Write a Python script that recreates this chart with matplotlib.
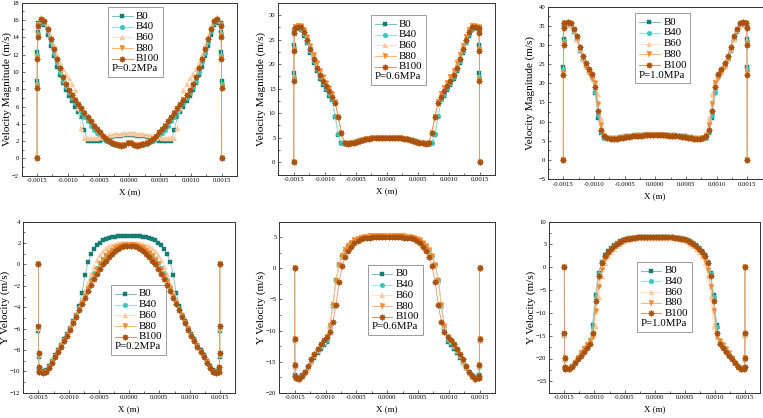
import numpy as np
import matplotlib
matplotlib.use("Agg")
import matplotlib.pyplot as plt
from matplotlib.path import Path
from matplotlib.lines import Line2D
from matplotlib.offsetbox import AnchoredOffsetbox, VPacker, HPacker, TextArea, DrawingArea
from matplotlib.ticker import MultipleLocator, FormatStrFormatter

plt.rcParams['font.family'] = ['Liberation Serif', 'DejaVu Serif']

# ---------------- data (half profiles, x from wall to centre) ----------------
x_half = [-0.0015, -0.001499, -0.001497, -0.001493, -0.001485,
          -0.00143, -0.00138, -0.00133, -0.00128, -0.00123, -0.00118, -0.00113,
          -0.00108, -0.00103, -0.00098, -0.00093, -0.00088, -0.00083, -0.00078,
          -0.00073, -0.00068, -0.00063, -0.00058, -0.00053, -0.00048, -0.00043,
          -0.00038, -0.00033, -0.00028, -0.00023, -0.00018, -0.00013, -0.00008, -0.00003]

series_names = ['B0', 'B40', 'B60', 'B80', 'B100']

# Velocity magnitude, P=0.2MPa
vm02_B0 = [0, 8.9, 12.3, 14.6, 15.6, 15.7, 15.4, 14.3, 13.0, 11.8, 10.6, 9.6, 8.7, 7.9, 7.2, 6.6, 6.0, 5.4, 4.8, 3.3, 2.05, 2.0, 2.0, 2.0, 2.05, 2.2, 2.3, 2.4, 2.5, 2.55, 2.6, 2.6, 2.65, 2.65]
vm02_B40 = [0, 8.6, 12.0, 14.4, 15.5, 15.9, 15.6, 14.7, 13.4, 12.2, 11.1, 10.0, 9.0, 8.3, 7.6, 7.0, 6.4, 5.9, 5.3, 4.8, 4.3, 3.8, 3.3, 2.9, 2.6, 2.3, 2.0, 1.85, 1.7, 1.6, 1.55, 1.5, 1.6, 1.75]
vm02_B60 = [0, 8.3, 11.7, 14.2, 15.5, 16.3, 16.1, 15.3, 14.2, 13.1, 12.0, 11.0, 10.3, 9.8, 9.3, 8.6, 7.9, 5.8, 3.5, 2.4, 2.35, 2.35, 2.4, 2.4, 2.45, 2.5, 2.6, 2.7, 2.75, 2.8, 2.85, 2.85, 2.9, 2.9]
vm02_B80 = [0, 8.2, 11.6, 14.1, 15.4, 16.0, 15.8, 14.9, 13.7, 12.5, 11.4, 10.3, 9.3, 8.5, 7.8, 7.2, 6.7, 6.2, 5.7, 5.2, 4.7, 4.2, 3.7, 3.3, 2.9, 2.5, 2.2, 1.95, 1.8, 1.7, 1.6, 1.5, 1.6, 1.8]
vm02_B100 = [0, 8.1, 11.5, 14.0, 15.3, 16.1, 15.9, 15.0, 13.8, 12.6, 11.5, 10.4, 9.4, 8.6, 7.9, 7.3, 6.8, 6.3, 5.8, 5.3, 4.8, 4.3, 3.8, 3.4, 3.0, 2.6, 2.3, 2.0, 1.8, 1.65, 1.5, 1.4, 1.55, 1.75]

# Velocity magnitude, P=0.6MPa
vm06_B0 = [0, 18.1, 23.8, 26.8, 27.2, 27.3, 27.0, 25.8, 24.2, 22.2, 20.2, 18.5, 17.0, 15.8, 14.7, 13.6, 12.6, 9.3, 5.6, 3.9, 3.8, 3.85, 3.95, 4.1, 4.3, 4.45, 4.6, 4.75, 4.85, 4.9, 4.95, 5.0, 5.05, 5.05]
vm06_B40 = [0, 17.3, 23.2, 26.6, 27.3, 27.4, 27.2, 26.1, 24.6, 22.6, 20.6, 18.9, 17.4, 16.2, 15.1, 14.0, 12.9, 9.4, 5.7, 4.0, 3.8, 3.85, 3.95, 4.1, 4.3, 4.45, 4.6, 4.75, 4.85, 4.9, 4.95, 5.0, 5.05, 5.05]
vm06_B60 = [0, 17.0, 23.0, 26.6, 27.5, 27.7, 27.6, 26.9, 25.4, 23.5, 21.6, 20.0, 18.5, 17.2, 16.1, 15.0, 13.8, 12.3, 9.3, 5.9, 4.0, 3.8, 3.9, 4.0, 4.2, 4.4, 4.55, 4.7, 4.8, 4.9, 4.95, 5.0, 5.05, 5.05]
vm06_B80 = [0, 16.8, 22.8, 26.5, 27.5, 27.8, 27.7, 27.0, 25.5, 23.6, 21.8, 20.2, 18.6, 17.3, 16.2, 15.1, 13.9, 12.3, 9.3, 5.9, 4.0, 3.8, 3.9, 4.0, 4.2, 4.4, 4.55, 4.7, 4.8, 4.9, 4.95, 5.0, 5.05, 5.05]
vm06_B100 = [0, 16.5, 22.6, 26.4, 27.4, 27.6, 27.5, 26.6, 25.0, 23.0, 21.0, 19.3, 17.8, 16.5, 15.5, 14.5, 13.3, 12.1, 9.2, 5.9, 4.0, 3.8, 3.9, 4.0, 4.2, 4.4, 4.55, 4.7, 4.8, 4.9, 4.95, 5.0, 5.05, 5.05]

# Velocity magnitude, P=1.0MPa
vm10_B0 = [0, 24.3, 31.5, 34.8, 35.3, 35.3, 34.9, 33.3, 31.2, 28.5, 26.2, 24.5, 23.2, 21.6, 17.4, 11.0, 7.0, 5.7, 5.6, 5.6, 5.7, 5.8, 5.9, 6.0, 6.1, 6.2, 6.3, 6.4, 6.45, 6.5, 6.55, 6.6, 6.6, 6.6]
vm10_B40 = [0, 23.6, 31.0, 34.6, 35.4, 35.5, 35.1, 33.6, 31.5, 28.8, 26.4, 24.7, 23.4, 21.9, 17.8, 11.6, 7.2, 5.8, 5.6, 5.6, 5.65, 5.75, 5.85, 5.95, 6.05, 6.15, 6.25, 6.35, 6.4, 6.45, 6.5, 6.55, 6.6, 6.6]
vm10_B60 = [0, 23.0, 30.5, 34.6, 35.6, 35.7, 35.3, 33.8, 31.6, 28.9, 26.3, 24.4, 23.0, 21.8, 20.7, 17.2, 11.0, 7.0, 5.8, 5.5, 5.5, 5.6, 5.7, 5.8, 5.9, 6.0, 6.1, 6.2, 6.25, 6.3, 6.35, 6.4, 6.4, 6.4]
vm10_B80 = [0, 22.8, 30.2, 34.5, 35.7, 35.8, 35.4, 33.9, 31.8, 29.0, 26.4, 24.3, 22.8, 21.2, 20.0, 14.5, 9.1, 6.3, 5.6, 5.4, 5.4, 5.5, 5.6, 5.75, 5.85, 5.95, 6.05, 6.15, 6.25, 6.3, 6.35, 6.4, 6.45, 6.45]
vm10_B100 = [0, 22.2, 29.9, 34.5, 35.8, 35.9, 35.7, 34.3, 32.4, 29.6, 27.0, 25.2, 23.8, 22.4, 19.0, 12.7, 7.8, 6.1, 5.6, 5.4, 5.4, 5.5, 5.6, 5.8, 5.9, 6.0, 6.1, 6.2, 6.3, 6.35, 6.4, 6.45, 6.5, 6.5]

# Y velocity, P=0.2MPa
yv02_B0 = [0, -6.2, -8.7, -9.9, -10.0, -10.0, -9.9, -9.5, -9.0, -8.5, -8.0, -7.5, -7.0, -6.5, -5.9, -5.3, -4.7, -3.9, -2.7, -1.0, 0.2, 0.95, 1.45, 1.8, 2.05, 2.25, 2.4, 2.5, 2.55, 2.6, 2.62, 2.65, 2.65, 2.65]
yv02_B40 = [0, -6.0, -8.5, -9.8, -10.1, -10.1, -10.0, -9.6, -9.1, -8.6, -8.1, -7.6, -7.1, -6.6, -6.0, -5.4, -4.8, -4.2, -3.5, -2.8, -2.1, -1.4, -0.8, -0.3, 0.15, 0.5, 0.85, 1.1, 1.35, 1.55, 1.7, 1.8, 1.85, 1.85]
yv02_B60 = [0, -5.9, -8.4, -9.7, -10.1, -10.1, -10.0, -9.6, -9.1, -8.6, -8.1, -7.6, -7.1, -6.6, -6.0, -5.4, -4.8, -4.1, -3.3, -2.5, -1.7, -0.9, -0.2, 0.4, 0.9, 1.25, 1.5, 1.7, 1.85, 1.95, 2.0, 2.05, 2.05, 2.05]
yv02_B80 = [0, -5.85, -8.35, -9.65, -10.1, -10.15, -10.05, -9.65, -9.15, -8.65, -8.15, -7.65, -7.15, -6.65, -6.05, -5.45, -4.85, -4.25, -3.6, -2.95, -2.3, -1.65, -1.05, -0.5, 0.0, 0.4, 0.75, 1.05, 1.3, 1.5, 1.65, 1.75, 1.8, 1.85]
yv02_B100 = [0, -5.8, -8.3, -9.6, -10.1, -10.2, -10.1, -9.7, -9.2, -8.7, -8.2, -7.7, -7.2, -6.7, -6.1, -5.5, -4.9, -4.3, -3.7, -3.1, -2.5, -1.9, -1.35, -0.85, -0.4, 0.0, 0.35, 0.7, 1.0, 1.25, 1.45, 1.6, 1.7, 1.75]

# Y velocity, P=0.6MPa
yv06_B0 = [0, -11.7, -15.9, -17.2, -17.4, -17.4, -17.1, -16.7, -16.0, -15.2, -14.4, -13.6, -12.9, -12.3, -11.8, -9.6, -6.0, -1.9, 0.5, 1.9, 2.7, 3.4, 3.9, 4.3, 4.55, 4.7, 4.8, 4.9, 4.95, 5.0, 5.0, 5.0, 5.0, 5.0]
yv06_B40 = [0, -11.6, -15.8, -17.3, -17.5, -17.5, -17.2, -16.7, -15.9, -15.0, -14.1, -13.3, -12.6, -12.0, -11.5, -9.5, -6.0, -2.0, 0.5, 1.9, 2.75, 3.45, 3.95, 4.35, 4.6, 4.75, 4.85, 4.95, 5.0, 5.05, 5.05, 5.05, 5.05, 5.05]
yv06_B60 = [0, -11.5, -15.7, -17.4, -17.7, -17.7, -17.4, -16.8, -16.0, -15.0, -14.0, -13.1, -12.3, -11.7, -11.1, -9.2, -5.8, -2.0, 0.6, 2.0, 2.9, 3.6, 4.1, 4.5, 4.75, 4.9, 5.0, 5.1, 5.15, 5.2, 5.2, 5.2, 5.2, 5.2]
yv06_B80 = [0, -11.4, -15.6, -17.4, -17.8, -17.9, -17.5, -16.9, -16.1, -15.1, -14.1, -13.2, -12.4, -11.7, -11.1, -9.3, -5.9, -2.0, 0.6, 2.0, 2.9, 3.6, 4.1, 4.5, 4.75, 4.9, 5.0, 5.1, 5.15, 5.2, 5.2, 5.2, 5.2, 5.2]
yv06_B100 = [0, -11.3, -15.5, -17.3, -17.7, -17.8, -17.3, -16.6, -15.7, -14.6, -13.7, -12.9, -12.2, -11.6, -11.0, -10.3, -8.6, -5.9, -2.2, 0.3, 1.9, 2.8, 3.5, 4.0, 4.4, 4.65, 4.8, 4.9, 4.95, 5.0, 5.05, 5.05, 5.05, 5.05]

# Y velocity, P=1.0MPa
yv10_B0 = [0, -15.0, -20.3, -22.0, -22.1, -22.0, -21.6, -20.9, -20.1, -19.3, -18.4, -17.5, -16.5, -12.6, -6.0, -1.2, 1.2, 2.6, 3.5, 4.2, 4.8, 5.3, 5.7, 6.0, 6.2, 6.35, 6.45, 6.5, 6.55, 6.6, 6.6, 6.6, 6.6, 6.6]
yv10_B40 = [0, -14.9, -20.2, -22.0, -22.2, -22.1, -21.7, -20.9, -20.1, -19.2, -18.3, -17.4, -16.4, -13.0, -6.5, -1.4, 1.1, 2.5, 3.4, 4.2, 4.8, 5.3, 5.7, 6.0, 6.2, 6.35, 6.45, 6.5, 6.55, 6.6, 6.6, 6.6, 6.6, 6.6]
yv10_B60 = [0, -14.8, -20.0, -22.0, -22.3, -22.3, -21.7, -20.8, -19.8, -18.8, -17.8, -16.9, -16.0, -15.0, -12.8, -6.5, -1.8, 0.9, 2.4, 3.4, 4.1, 4.7, 5.2, 5.6, 5.9, 6.1, 6.25, 6.35, 6.4, 6.45, 6.5, 6.5, 6.5, 6.5]
yv10_B80 = [0, -14.6, -19.9, -22.0, -22.4, -22.4, -21.8, -20.9, -19.9, -18.9, -17.9, -17.0, -16.1, -15.2, -9.6, -4.3, -0.5, 1.5, 2.8, 3.7, 4.4, 5.0, 5.4, 5.8, 6.0, 6.2, 6.3, 6.4, 6.45, 6.5, 6.5, 6.5, 6.5, 6.5]
yv10_B100 = [0, -14.5, -19.8, -21.9, -22.3, -22.4, -21.9, -21.0, -20.2, -19.4, -18.6, -17.8, -16.9, -14.3, -7.4, -1.8, 1.0, 2.4, 3.4, 4.1, 4.7, 5.2, 5.6, 5.9, 6.1, 6.3, 6.4, 6.5, 6.55, 6.6, 6.6, 6.6, 6.6, 6.6]

pressure_labels = ['P=0.2MPa', 'P=0.6MPa', 'P=1.0MPa']
panel_data = [
    [vm02_B0, vm02_B40, vm02_B60, vm02_B80, vm02_B100],
    [vm06_B0, vm06_B40, vm06_B60, vm06_B80, vm06_B100],
    [vm10_B0, vm10_B40, vm10_B60, vm10_B80, vm10_B100],
    [yv02_B0, yv02_B40, yv02_B60, yv02_B80, yv02_B100],
    [yv06_B0, yv06_B40, yv06_B60, yv06_B80, yv06_B100],
    [yv10_B0, yv10_B40, yv10_B60, yv10_B80, yv10_B100],
]
ylabels = ['Velocity Magnitude (m/s)'] * 3 + ['Y Velocity (m/s)'] * 3

# ---------------- styling ----------------
colors = ['#167d74', '#36c6bc', '#fcc89e', '#f68a2c', '#a9510f']
line_colors = ['#7cc4bd', '#9fe3dc', '#fde0c8', '#f9b77a', '#d59a6e']
star8 = Path.unit_regular_star(8, 0.72)
markers = ['s', 'o', '^', 'v', star8]
msizes = [3.2, 3.4, 3.6, 3.6, 4.4]

W, H = 763, 418
# axes rectangles in pixels: left, right, top, bottom
rects = [(21.7, 237, 2.7, 175.7), (278.3, 495, 2.7, 174.6), (548, 762.5, 6.7, 179),
         (23.3, 235, 221.7, 392.7), (279.3, 495, 221.7, 392.7), (549.3, 760, 221.7, 392.7)]
ylims = [(-2, 18), (-2.5, 32.5), (-5, 40), (-12, 4), (-20, 7.5), (-27.5, 10)]
ymajor = [2, 5, 5, 2, 5, 5]
leg_anchor = [(0.401, 0.975), (0.428, 0.928), (0.406, 0.962),
              (0.414, 0.63), (0.41, 0.747), (0.415, 0.766)]
ylabel_x = [-0.068, -0.077, -0.081, -0.086, -0.082, -0.088]

fig = plt.figure(figsize=(W / 100, H / 100), dpi=100)

x_full = np.array(x_half + [-v for v in x_half[::-1]])

for p in range(6):
    l, r, t, b = rects[p]
    ax = fig.add_axes([l / W, 1 - b / H, (r - l) / W, (b - t) / H])
    for s in range(5):
        half = panel_data[p][s]
        y_full = np.array(half + half[::-1])
        ax.plot(x_full, y_full, color=line_colors[s], lw=0.6, zorder=2 + s)
        ax.plot(x_full, y_full, ls='none', marker=markers[s], ms=msizes[s],
                mfc=colors[s], mec=colors[s], mew=0.3, zorder=3 + s)
    ax.set_xlim(-0.00175, 0.00175)
    ax.set_ylim(*ylims[p])
    ax.xaxis.set_major_locator(MultipleLocator(0.0005))
    ax.xaxis.set_minor_locator(MultipleLocator(0.00025))
    ax.xaxis.set_major_formatter(FormatStrFormatter('%.4f'))
    ax.yaxis.set_major_locator(MultipleLocator(ymajor[p]))
    ax.yaxis.set_minor_locator(MultipleLocator(ymajor[p] / 2))
    ax.tick_params(which='both', direction='in', labelsize=4.8, pad=2, width=0.5, color='#333333')
    ax.tick_params(which='major', length=2.5)
    ax.tick_params(which='minor', length=1.3)
    for sp in ax.spines.values():
        sp.set_linewidth(0.7)
        sp.set_color('#333333')
    ax.set_xlabel('X (m)', fontsize=6.5)
    ax.xaxis.set_label_coords(0.5, -0.075)
    ax.set_ylabel(ylabels[p], fontsize=8.0)
    ax.yaxis.label.set_va('center')
    ax.yaxis.set_label_coords(ylabel_x[p], 0.5)

    # legend box
    rows = []
    hl, hh = 15, 7.5
    for s in range(5):
        da = DrawingArea(hl, hh, 0, 0)
        da.add_artist(Line2D([0, hl], [hh / 2, hh / 2], color=line_colors[s], lw=0.8))
        da.add_artist(Line2D([hl / 2], [hh / 2], ls='none', marker=markers[s], ms=msizes[s],
                             mfc=colors[s], mec=colors[s], mew=0.3))
        ta = TextArea(series_names[s], textprops=dict(fontsize=7.8))
        rows.append(HPacker(children=[da, ta], align='center', pad=0, sep=2.5))
    rows.append(TextArea(pressure_labels[p % 3], textprops=dict(fontsize=7.8)))
    vp = VPacker(children=rows, align='left', pad=0, sep=0.2)
    ab = AnchoredOffsetbox(loc='upper left', child=vp, pad=0.35, borderpad=0, frameon=True,
                           bbox_to_anchor=leg_anchor[p], bbox_transform=ax.transAxes,
                           prop=dict(size=7.8))
    ab.patch.set_edgecolor('#8c8c8c')
    ab.patch.set_linewidth(0.6)
    ab.patch.set_boxstyle('square', pad=0)
    ax.add_artist(ab)

fig.savefig('out.png', dpi=100)
